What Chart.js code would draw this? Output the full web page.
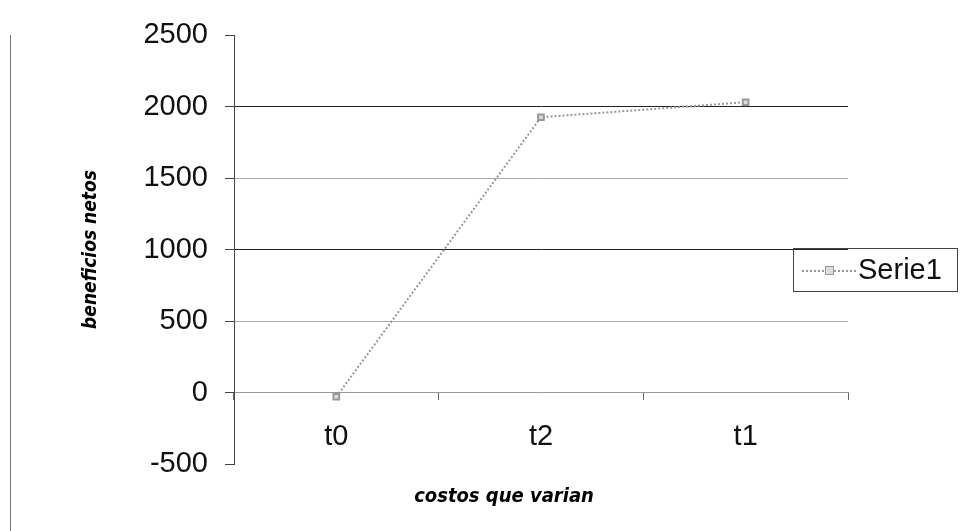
<!DOCTYPE html>
<html>
<head>
<meta charset="utf-8">
<script src="https://cdn.jsdelivr.net/npm/chart.js@4"></script>
<style>
  body { margin: 0; background: #fff; }
  #wrap { position: relative; width: 977px; height: 531px; }
  #frame { position: absolute; left: 10px; top: 35px; width: 0; height: 496px; border-left: 1px solid #777; }
  #legend {
    position: absolute; left: 793px; top: 248px; width: 163px; height: 42px;
    border: 1px solid #444; font: 29px "Liberation Sans", Arial, sans-serif; color: #111;
  }
  #legend .ln { position: absolute; left: 8px; top: 21px; width: 54px; border-top: 2px dotted #999; }
  #legend .mk { position: absolute; left: 31px; top: 17px; width: 7px; height: 7px; border: 1px solid #999; background: #ddd; }
  #legend .tx { position: absolute; left: 64px; top: 4px; }
  #xtitle {
    position: absolute; left: 504px; top: 483px; transform: translateX(-50%); white-space: nowrap;
    font: italic bold 20px "DejaVu Sans Condensed", sans-serif; color: #000;
  }
</style>
</head>
<body>
<div id="wrap">
  <canvas id="chart" width="977" height="531"></canvas>
  <div id="frame"></div>
  <div id="legend"><div class="ln"></div><div class="mk"></div><div class="tx">Serie1</div></div>
  <div id="xtitle">costos que varian</div>
</div>
<script>
// values
const categories = ['t0', 't2', 't1'];
const serie1 = [-30, 1925, 2030];
const yTicks = [-500, 0, 500, 1000, 1500, 2000, 2500];

const darkLines = [1000, 2000];
const tickFont = { family: 'Liberation Sans', size: 29 };

const ctx = document.getElementById('chart').getContext('2d');
new Chart(ctx, {
  type: 'line',
  data: {
    labels: categories,
    datasets: [{
      label: 'Serie1',
      data: serie1,
      borderColor: '#999',
      borderWidth: 2,
      borderDash: [2, 2],
      pointStyle: 'rect',
      pointRadius: 4,
      pointBorderColor: '#999',
      pointBackgroundColor: '#ddd',
      tension: 0,
    }],
  },
  options: {
    responsive: false,
    animation: false,
    layout: { padding: { left: 0, top: 35, right: 129, bottom: 67 } },
    plugins: { legend: { display: false }, tooltip: { enabled: false } },
    scales: {
      x: {
        type: 'category',
        offset: true,
        position: { y: 0 },
        border: { color: '#999', width: 1 },
        grid: { offset: true, drawOnChartArea: false, drawTicks: true, tickLength: 7, tickColor: '#666' },
        ticks: { color: '#111', padding: 20, font: tickFont },
      },
      y: {
        min: yTicks[0],
        max: yTicks[yTicks.length - 1],
        afterBuildTicks: (scale) => { scale.ticks = yTicks.map(v => ({ value: v })); },
        afterFit: (scale) => { scale.width = 234; },
        border: { color: '#444', width: 1 },
        grid: {
          color: (c) => {
            const v = c.tick && c.tick.value;
            if (v === 0 || v === yTicks[0] || v === yTicks[yTicks.length - 1]) return 'rgba(0,0,0,0)';
            return darkLines.includes(v) ? '#222' : '#aaa';
          },
          tickColor: '#444',
          tickLength: 9,
        },
        ticks: { color: '#111', padding: 17, font: tickFont, callback: (v) => String(v) },
        title: {
          display: true,
          text: 'beneficios netos',
          color: '#000',
          padding: { top: 80, bottom: 0 },
          font: { family: 'DejaVu Sans Condensed', size: 19, style: 'italic', weight: 'bold' },
        },
      },
    },
  },
});
</script>
</body>
</html>
